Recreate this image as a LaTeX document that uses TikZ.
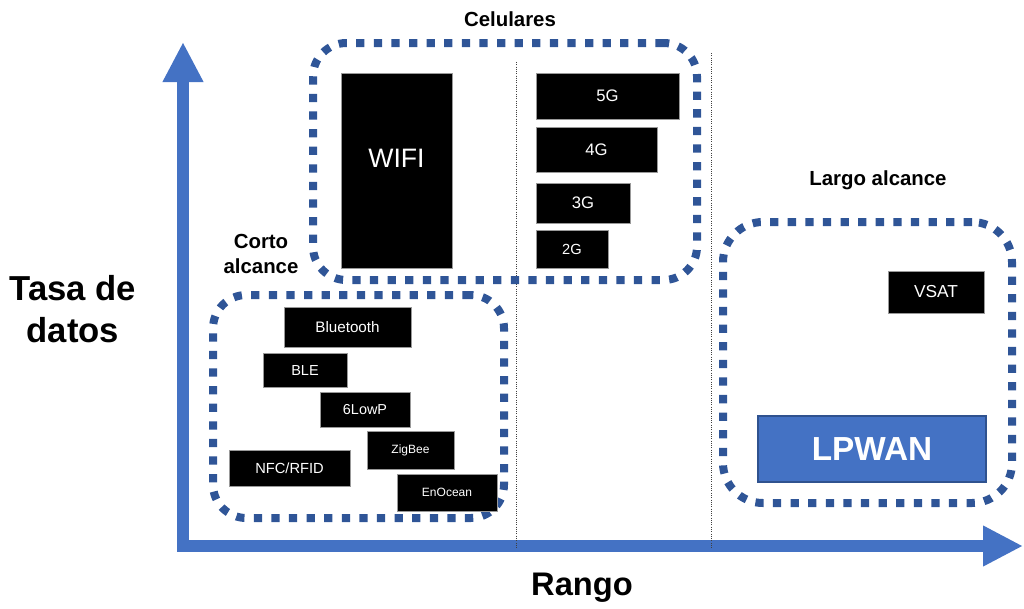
\documentclass[tikz,border=0pt]{standalone}
\usepackage{fontspec}
\setmainfont{Liberation Sans}
\usetikzlibrary{arrows.meta}

\definecolor{axisblue}{HTML}{4472C4}
\definecolor{dotblue}{HTML}{2F5597}
\definecolor{lpwanedge}{HTML}{2F528F}

\newcommand{\sz}[1]{\fontsize{#1}{#1}\selectfont}

\tikzset{
  tech/.style={draw=black!40, line width=0.6pt, fill=black, text=white, inner sep=0pt},
  group/.style={draw=dotblue, line width=6pt, dash pattern=on 6.2pt off 7pt, rounded corners=25pt, inner sep=0pt},
  grouplabel/.style={font=\bfseries\fontsize{15.3}{18.75}\selectfont, align=center},
  axistitle/.style={font=\bfseries\fontsize{26}{31.5}\selectfont, align=center},
  axis/.style={draw=axisblue, line width=9pt, line join=miter,
    {Triangle[length=30pt,width=28.5pt]}-{Triangle[length=30pt,width=28.5pt]}},
  sep/.style={black!75, line width=0.7pt, densely dotted},
}

\begin{document}
\begin{tikzpicture}[x=0.75pt, y=-0.75pt]
    \useasboundingbox (0,0) rectangle (1024,608);
    % axes
    \coordinate (origin) at (183,546);
    \coordinate (ytip) at (183,42);
    \coordinate (xtip) at (1023,546);
    \draw[axis] (ytip) -- (origin) -- (xtip);
    \node[axistitle] (tasa) at (73,309) {Tasa de\\datos};
    \node[axistitle, font=\bfseries\sz{24.5}] (rango) at (582,588) {Rango};
    %
    \draw[sep] (516,62) -- (516,548);
    \draw[sep] (711,53) -- (711,548);
    %
    \node[group, minimum width=288pt, minimum height=177.75pt] (cel) at (505,161.5) {};
    \node[group, minimum width=218.25pt, minimum height=167.25pt] (corto) at (358.5,406.5) {};
    \node[group, rounded corners=30pt, minimum width=216.75pt, minimum height=210.75pt] (largo) at (867.5,362.5) {};
    \node[grouplabel] (cellbl) at (510,19) {Celulares};
    \node[grouplabel] (cortolbl) at (261,254) {Corto\\alcance};
    \node[grouplabel] (largolbl) at (878,180) {Largo alcance};
    % celulares
    \node[tech, minimum width=83.25pt, minimum height=146.25pt,
      label={[text=white, font=\sz{20}, yshift=9pt]center:WIFI}] (wifi) at (396.5,170.5) {};
    \node[tech, minimum width=107.25pt, minimum height=34.5pt, font=\sz{12.5}] (g5) at (607.5,96) {5G};
    \node[tech, minimum width=90.75pt, minimum height=33.75pt, font=\sz{12.5}] (g4) at (596.5,149.5) {4G};
    \node[tech, minimum width=70.5pt, minimum height=30pt, font=\sz{12.5}] (g3) at (583,203) {3G};
    \node[tech, minimum width=54pt, minimum height=28.5pt, font=\sz{11}] (g2) at (572,249) {2G};
    % corto alcance
    \node[tech, minimum width=95.25pt, minimum height=30pt, font=\sz{11.4}] (bt) at (347.5,327) {Bluetooth};
    \node[tech, minimum width=63pt, minimum height=25.5pt, font=\sz{10.9}] (ble) at (305,370) {BLE};
    \node[tech, minimum width=67.5pt, minimum height=26.25pt, font=\sz{10.8}] (lowp) at (365,409.5) {6LowP};
    \node[tech, minimum width=65.25pt, minimum height=28.5pt, font=\sz{9}] (zig) at (410.5,450) {ZigBee};
    \node[tech, minimum width=90.75pt, minimum height=27pt, font=\sz{11}] (nfc) at (289.5,468) {NFC/RFID};
    \node[tech, minimum width=75pt, minimum height=27.75pt, font=\sz{9}] (enocean) at (447,492.5) {EnOcean};
    % largo alcance
    \node[tech, minimum width=72pt, minimum height=31.5pt, font=\sz{13}] (vsat) at (936,292) {VSAT};
    \node[tech, draw=lpwanedge, line width=2.2pt, fill=axisblue, minimum width=171pt, minimum height=49.5pt,
      font=\bfseries\sz{25}] (lpwan) at (872,449) {LPWAN};
\end{tikzpicture}
\end{document}
